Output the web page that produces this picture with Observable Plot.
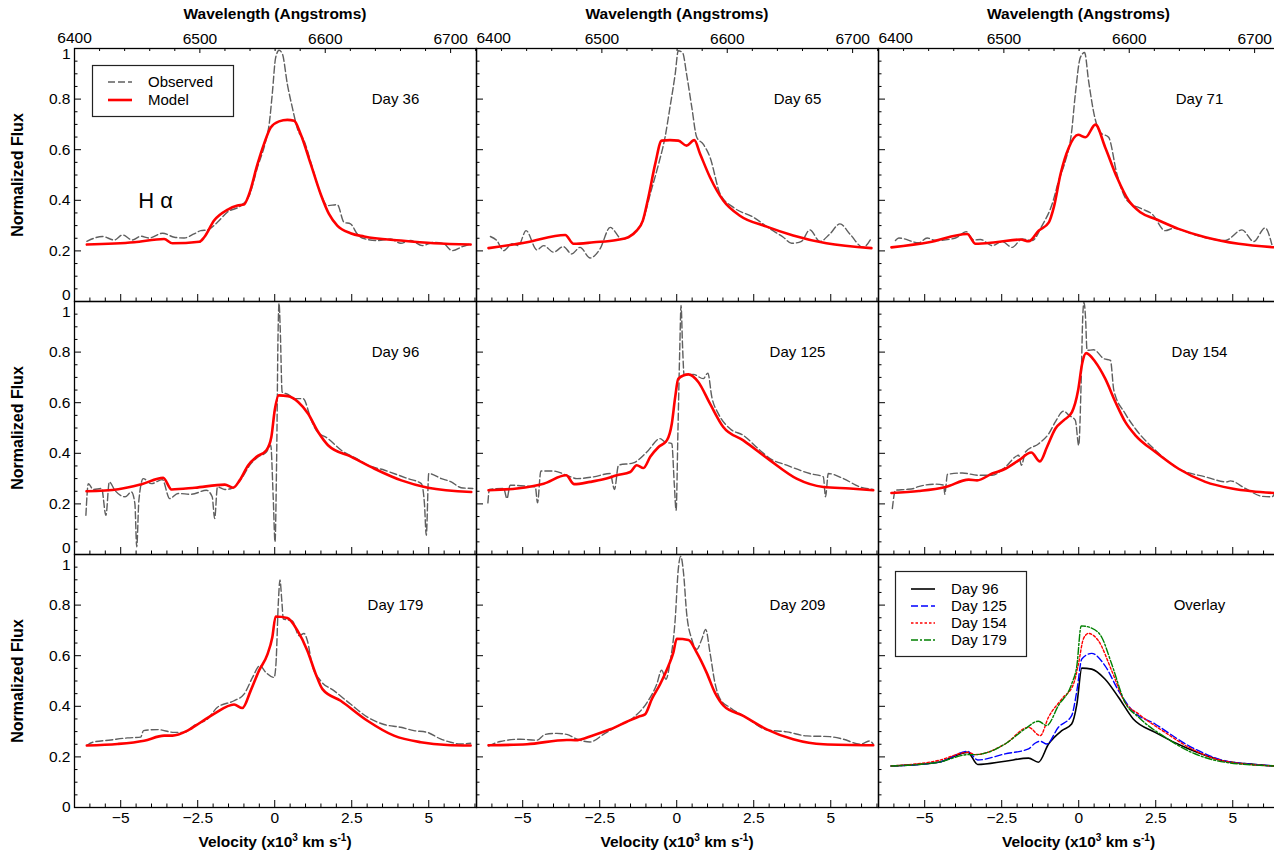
<!DOCTYPE html>
<html><head><meta charset="utf-8">
<script src="https://cdn.jsdelivr.net/npm/d3@7"></script>
<script src="https://cdn.jsdelivr.net/npm/@observablehq/plot@0.6"></script>
<style>
body{margin:0;background:#fff;}
#chart{position:relative;width:1274px;height:857px;overflow:hidden;background:#fff;font-family:"Liberation Sans",Arial,Helvetica,sans-serif;color:#000;}
.ttl{position:absolute;font-weight:bold;font-size:15.5px;white-space:nowrap;transform:translate(-50%,-50%);}
.ttl sup{font-size:10px;vertical-align:6px;line-height:0;}
.rot{font-size:16px;transform:translate(-50%,-50%) rotate(-90deg);}
.leg{position:absolute;overflow:visible;}
</style></head>
<body><div id="chart"></div>
<script>
// ---------------- data (velocity x10^3 km/s, normalized flux) ----------------
const obs36 = [[-6.10,0.238],[-5.59,0.257],[-5.21,0.243],[-4.94,0.263],[-4.62,0.243],[-4.35,0.258],[-4.08,0.251],[-3.64,0.270],[-3.26,0.254],[-2.94,0.251],[-2.62,0.267],[-2.40,0.280],[-2.18,0.283],[-1.86,0.313],[-1.54,0.353],[-1.10,0.379],[-0.83,0.418],[-0.56,0.530],[-0.29,0.636],[-0.18,0.701],[-0.08,0.820],[0.03,0.964],[0.14,0.993],[0.25,0.978],[0.41,0.859],[0.57,0.767],[0.74,0.682],[0.95,0.636],[1.22,0.530],[1.49,0.425],[1.71,0.379],[2.03,0.383],[2.25,0.313],[2.46,0.307],[2.68,0.267],[2.84,0.251],[3.33,0.241],[3.76,0.247],[4.09,0.230],[4.41,0.241],[4.79,0.221],[5.17,0.234],[5.49,0.228],[5.76,0.201],[6.09,0.217],[6.36,0.228]];
const mod36 = [[-6.10,0.225],[-4.56,0.234],[-3.59,0.247],[-3.32,0.230],[-2.45,0.236],[-2.29,0.254],[-1.97,0.320],[-1.54,0.362],[-1.21,0.379],[-1.00,0.383],[-0.83,0.425],[-0.56,0.543],[-0.35,0.622],[-0.13,0.688],[0.14,0.712],[0.41,0.718],[0.63,0.714],[0.84,0.662],[1.17,0.543],[1.49,0.425],[1.76,0.346],[2.03,0.300],[2.46,0.270],[2.90,0.257],[4.09,0.241],[5.17,0.230],[6.36,0.225]];

const obs65 = [[-6.05,0.257],[-5.84,0.241],[-5.62,0.201],[-5.35,0.228],[-5.14,0.221],[-4.89,0.280],[-4.54,0.204],[-4.32,0.221],[-4.00,0.195],[-3.68,0.217],[-3.41,0.188],[-3.14,0.214],[-2.81,0.172],[-2.49,0.208],[-2.16,0.293],[-1.78,0.247],[-1.41,0.270],[-1.08,0.326],[-0.86,0.425],[-0.59,0.543],[-0.38,0.649],[-0.22,0.767],[-0.05,0.899],[0.05,0.991],[0.19,0.984],[0.32,0.899],[0.49,0.767],[0.65,0.649],[0.86,0.622],[1.08,0.570],[1.41,0.425],[1.84,0.372],[2.49,0.333],[3.03,0.287],[3.46,0.254],[3.73,0.230],[4.05,0.238],[4.32,0.283],[4.65,0.237],[4.97,0.267],[5.30,0.307],[5.62,0.267],[6.05,0.214],[6.32,0.251]];
const mod65 = [[-6.11,0.211],[-4.86,0.234],[-3.62,0.263],[-3.35,0.228],[-2.70,0.234],[-1.95,0.243],[-1.57,0.254],[-1.30,0.280],[-1.10,0.320],[-0.92,0.412],[-0.70,0.543],[-0.49,0.636],[-0.22,0.638],[0.05,0.636],[0.32,0.616],[0.57,0.638],[0.76,0.583],[1.08,0.491],[1.51,0.399],[2.05,0.339],[2.92,0.296],[3.78,0.261],[4.86,0.230],[6.32,0.211]];

const obs71 = [[-5.95,0.241],[-5.84,0.251],[-5.19,0.232],[-4.92,0.251],[-4.65,0.241],[-4.00,0.251],[-3.65,0.276],[-3.41,0.243],[-3.19,0.245],[-2.81,0.221],[-2.49,0.237],[-2.16,0.214],[-1.84,0.247],[-1.51,0.241],[-1.19,0.300],[-0.86,0.386],[-0.65,0.478],[-0.43,0.557],[-0.24,0.662],[-0.11,0.820],[0.05,0.964],[0.19,0.984],[0.32,0.872],[0.52,0.728],[0.70,0.668],[0.97,0.649],[1.24,0.504],[1.57,0.399],[2.05,0.366],[2.38,0.346],[2.81,0.280],[3.08,0.289],[3.78,0.263],[4.32,0.247],[4.76,0.241],[5.30,0.283],[5.68,0.237],[6.05,0.291],[6.27,0.225]];
const mod71 = [[-6.08,0.214],[-4.86,0.234],[-3.62,0.267],[-3.35,0.228],[-2.70,0.234],[-1.89,0.245],[-1.62,0.238],[-1.30,0.280],[-0.97,0.313],[-0.81,0.372],[-0.59,0.504],[-0.32,0.609],[-0.02,0.659],[0.22,0.649],[0.54,0.699],[0.86,0.609],[1.24,0.491],[1.62,0.399],[2.00,0.353],[2.49,0.326],[3.24,0.287],[4.11,0.254],[5.19,0.228],[6.38,0.214]];

const obs96 = [[-6.13,0.155],[-6.05,0.280],[-5.89,0.257],[-5.62,0.261],[-5.48,0.155],[-5.37,0.287],[-5.19,0.254],[-4.86,0.228],[-4.65,0.247],[-4.54,0.201],[-4.48,0.030],[-4.41,0.214],[-4.27,0.300],[-4.00,0.280],[-3.65,0.296],[-3.41,0.221],[-3.14,0.241],[-2.70,0.238],[-2.22,0.254],[-2.03,0.228],[-1.95,0.142],[-1.86,0.267],[-1.62,0.257],[-1.41,0.261],[-1.08,0.300],[-0.81,0.353],[-0.54,0.386],[-0.27,0.405],[-0.13,0.432],[-0.05,0.228],[0.01,0.050],[0.06,0.359],[0.11,0.886],[0.14,0.993],[0.18,0.886],[0.24,0.642],[0.43,0.633],[0.65,0.616],[0.92,0.616],[1.19,0.530],[1.35,0.491],[1.73,0.458],[2.16,0.412],[2.76,0.372],[2.92,0.359],[3.57,0.333],[4.32,0.300],[4.76,0.280],[4.86,0.201],[4.92,0.076],[5.00,0.320],[5.41,0.300],[5.73,0.287],[6.05,0.264],[6.43,0.261]];
const mod96 = [[-6.11,0.250],[-5.08,0.258],[-4.32,0.278],[-3.62,0.303],[-3.35,0.257],[-2.59,0.264],[-1.62,0.276],[-1.35,0.264],[-1.14,0.293],[-0.86,0.353],[-0.59,0.386],[-0.27,0.412],[-0.11,0.464],[0.00,0.570],[0.13,0.629],[0.43,0.626],[0.76,0.603],[1.08,0.557],[1.41,0.484],[1.73,0.432],[2.49,0.386],[3.24,0.339],[4.11,0.293],[4.97,0.264],[6.38,0.247]];

const obs125 = [[-6.13,0.204],[-6.08,0.257],[-5.62,0.261],[-5.51,0.221],[-5.41,0.274],[-4.86,0.270],[-4.59,0.267],[-4.52,0.204],[-4.41,0.330],[-4.00,0.330],[-3.57,0.313],[-3.24,0.300],[-2.70,0.307],[-2.16,0.320],[-2.02,0.257],[-1.89,0.353],[-1.41,0.362],[-0.97,0.405],[-0.54,0.458],[-0.38,0.445],[-0.16,0.438],[-0.08,0.280],[-0.02,0.175],[0.04,0.491],[0.10,0.820],[0.14,0.984],[0.19,0.820],[0.24,0.708],[0.54,0.712],[0.86,0.695],[1.01,0.717],[1.14,0.622],[1.35,0.557],[1.73,0.497],[2.16,0.471],[2.70,0.412],[3.03,0.379],[3.57,0.353],[4.32,0.320],[4.76,0.307],[4.83,0.228],[4.92,0.320],[5.41,0.300],[5.95,0.267],[6.38,0.257]];
const mod125 = [[-6.11,0.254],[-5.19,0.261],[-4.32,0.280],[-3.59,0.313],[-3.33,0.278],[-2.81,0.287],[-2.38,0.297],[-1.95,0.313],[-1.51,0.326],[-1.30,0.353],[-1.08,0.342],[-0.86,0.386],[-0.59,0.425],[-0.32,0.451],[-0.16,0.517],[-0.05,0.622],[0.05,0.695],[0.38,0.712],[0.70,0.682],[1.08,0.596],[1.51,0.504],[2.16,0.451],[3.03,0.372],[3.89,0.300],[4.76,0.267],[5.62,0.261],[6.38,0.254]];

const obs154 = [[-6.05,0.182],[-5.95,0.254],[-5.62,0.257],[-5.35,0.261],[-5.24,0.267],[-4.65,0.278],[-4.38,0.274],[-4.35,0.238],[-4.26,0.317],[-3.78,0.322],[-3.24,0.313],[-2.81,0.313],[-2.38,0.346],[-1.95,0.392],[-1.86,0.353],[-1.73,0.405],[-1.30,0.438],[-0.97,0.478],[-0.76,0.524],[-0.49,0.567],[-0.32,0.550],[-0.11,0.530],[0.00,0.432],[0.08,0.688],[0.13,0.938],[0.17,0.997],[0.22,0.938],[0.27,0.807],[0.49,0.809],[0.81,0.774],[1.03,0.767],[1.14,0.649],[1.51,0.557],[1.84,0.497],[2.49,0.412],[3.24,0.339],[4.11,0.307],[4.81,0.287],[4.92,0.291],[5.41,0.261],[5.95,0.230],[6.27,0.228],[6.38,0.247]];
const mod154 = [[-6.08,0.243],[-5.19,0.251],[-4.32,0.267],[-3.57,0.296],[-3.30,0.293],[-2.81,0.320],[-2.38,0.339],[-1.95,0.372],[-1.54,0.403],[-1.26,0.368],[-1.03,0.425],[-0.76,0.497],[-0.49,0.530],[-0.22,0.563],[-0.02,0.649],[0.11,0.754],[0.24,0.796],[0.54,0.761],[0.86,0.695],[1.19,0.603],[1.51,0.524],[1.84,0.471],[2.49,0.405],[3.24,0.339],[4.11,0.287],[4.97,0.261],[5.62,0.250],[6.38,0.243]];

const obs179 = [[-6.10,0.245],[-5.91,0.258],[-5.32,0.267],[-4.78,0.275],[-4.35,0.278],[-4.26,0.304],[-3.81,0.308],[-3.26,0.297],[-2.94,0.297],[-2.62,0.324],[-2.18,0.350],[-1.86,0.396],[-1.32,0.422],[-0.99,0.449],[-0.72,0.514],[-0.48,0.561],[-0.29,0.534],[-0.02,0.514],[0.04,0.567],[0.12,0.817],[0.17,0.899],[0.23,0.817],[0.28,0.745],[0.57,0.738],[0.79,0.679],[0.95,0.688],[1.06,0.659],[1.22,0.561],[1.49,0.501],[1.92,0.462],[2.46,0.409],[3.01,0.357],[3.55,0.328],[4.09,0.317],[4.52,0.304],[4.95,0.297],[5.38,0.271],[5.71,0.258],[6.03,0.251],[6.36,0.254]];
const mod179 = [[-6.10,0.245],[-5.10,0.251],[-4.24,0.264],[-3.59,0.284],[-3.32,0.284],[-2.83,0.304],[-2.40,0.337],[-1.97,0.370],[-1.32,0.407],[-1.05,0.393],[-0.78,0.462],[-0.51,0.541],[-0.24,0.604],[-0.08,0.672],[0.03,0.755],[0.41,0.749],[0.74,0.699],[1.06,0.620],[1.33,0.528],[1.55,0.468],[2.14,0.422],[3.01,0.343],[3.87,0.284],[4.74,0.258],[5.60,0.247],[6.36,0.245]];

const obs209 = [[-6.11,0.243],[-5.73,0.261],[-5.08,0.270],[-4.54,0.266],[-4.27,0.289],[-3.89,0.293],[-3.57,0.289],[-3.24,0.270],[-2.81,0.259],[-2.38,0.289],[-1.95,0.320],[-1.41,0.355],[-0.97,0.414],[-0.65,0.487],[-0.49,0.543],[-0.35,0.507],[-0.22,0.572],[-0.05,0.743],[0.05,0.941],[0.13,0.993],[0.22,0.928],[0.32,0.770],[0.49,0.664],[0.65,0.625],[0.81,0.664],[0.94,0.704],[1.08,0.612],[1.24,0.493],[1.41,0.428],[1.73,0.395],[2.27,0.355],[2.92,0.307],[3.57,0.299],[4.22,0.283],[4.97,0.280],[5.41,0.270],[5.95,0.250],[6.27,0.263],[6.38,0.250]];
const mod209 = [[-6.11,0.246],[-4.86,0.250],[-3.57,0.267],[-3.30,0.266],[-2.70,0.286],[-2.16,0.309],[-1.62,0.339],[-1.24,0.359],[-1.03,0.368],[-0.81,0.428],[-0.54,0.487],[-0.27,0.559],[-0.11,0.612],[0.00,0.667],[0.38,0.662],[0.65,0.612],[0.97,0.533],[1.24,0.454],[1.51,0.404],[2.16,0.362],[2.92,0.309],[3.78,0.270],[4.76,0.250],[6.38,0.246]];

// overlay of models
const ovl96 = [[-6.09,0.164],[-4.55,0.179],[-3.60,0.218],[-3.28,0.170],[-2.39,0.183],[-1.63,0.195],[-1.31,0.179],[-0.98,0.251],[-0.55,0.304],[-0.23,0.330],[-0.06,0.409],[0.10,0.551],[0.42,0.547],[0.85,0.508],[1.29,0.436],[1.77,0.350],[2.48,0.297],[3.56,0.232],[4.64,0.186],[5.72,0.170],[6.39,0.164]];
const ovl125 = [[-6.09,0.164],[-4.55,0.179],[-3.60,0.222],[-3.28,0.188],[-2.39,0.212],[-1.63,0.232],[-1.42,0.254],[-1.25,0.262],[-1.04,0.251],[-0.66,0.317],[-0.23,0.363],[-0.06,0.462],[0.10,0.587],[0.42,0.609],[0.85,0.561],[1.29,0.462],[1.72,0.386],[2.48,0.330],[3.56,0.245],[4.64,0.188],[5.72,0.170],[6.39,0.164]];
const ovl154 = [[-6.09,0.164],[-4.55,0.186],[-3.60,0.218],[-3.36,0.209],[-2.39,0.251],[-1.63,0.317],[-1.25,0.284],[-0.98,0.357],[-0.55,0.429],[-0.17,0.488],[-0.01,0.567],[0.15,0.666],[0.31,0.688],[0.64,0.659],[1.07,0.541],[1.50,0.416],[1.94,0.370],[2.80,0.297],[3.66,0.232],[4.75,0.183],[6.39,0.164]];
const ovl179 = [[-6.09,0.164],[-4.55,0.179],[-3.58,0.209],[-3.36,0.209],[-2.39,0.251],[-1.74,0.311],[-1.31,0.341],[-1.04,0.324],[-0.66,0.403],[-0.23,0.488],[-0.06,0.561],[0.08,0.718],[0.42,0.709],[0.75,0.672],[1.07,0.567],[1.50,0.416],[1.94,0.357],[2.80,0.278],[3.66,0.218],[4.75,0.179],[6.39,0.164]];

// labels and ticks
const dayLabels = [["Day 36","Day 65","Day 71"],["Day 96","Day 125","Day 154"],["Day 179","Day 209","Overlay"]];
const xTickValues = [-5, -2.5, 0, 2.5, 5];
const yTickValues = [0, 0.2, 0.4, 0.6, 0.8, 1];
const lambdaTicks = [6400, 6500, 6600, 6700];
const overlayNames = ["Day 96", "Day 125", "Day 154", "Day 179"];

// ---------------- layout ----------------
const W = 402, H = 253;
const colLeft = [74, 476, 877.5];
const rowTop = [48, 301, 554];
const vDomain = [-6.5, 6.55];
const lamToV = l => -6.5 + (l - 6400) * 0.0407; // top wavelength axis position
const fmtX = v => (v < 0 ? "\u2212" : "") + Math.abs(v);
const fmtY = v => String(v);
const xMinor = d3.range(-6.5, 6.51, 0.5).filter(v => !xTickValues.includes(v));
const yMinor = d3.range(1, 20).map(i => i * 0.05).filter(v => Math.abs(v * 5 - Math.round(v * 5)) > 1e-6);
const lamMinor = d3.range(6420, 6721, 20).filter(l => l % 100 !== 0);

const FONT = '"Liberation Sans", Arial, Helvetica, sans-serif';
const TICKFS = 15.5;
const obsStyle = {stroke: "#5f5f5f", strokeWidth: 1.4, strokeDasharray: "7,3", curve: "monotone-x"};
const modStyle = {stroke: "#ff0000", strokeWidth: 2.6, curve: "monotone-x"};
const ovlStyles = [
  {stroke: "#000000", strokeWidth: 1.6},
  {stroke: "#0000ff", strokeWidth: 1.4, strokeDasharray: "7,3"},
  {stroke: "#ff0000", strokeWidth: 1.4, strokeDasharray: "2.5,2"},
  {stroke: "#008000", strokeWidth: 1.4, strokeDasharray: "7,2,2,2"}
];

const chart = document.getElementById("chart");

function panel(row, col, curves) {
  const marks = [
    Plot.tickX(xMinor, {x: d => d, insetTop: H - 3.5, stroke: "black"}),
    Plot.tickX(xTickValues, {x: d => d, insetTop: H - 7, stroke: "black"}),
    Plot.tickY(yMinor, {y: d => d, insetRight: W - 3.5, stroke: "black"}),
    Plot.tickY(yTickValues, {y: d => d, insetRight: W - 7, stroke: "black"})
  ];
  if (row === 0) {
    marks.push(Plot.tickX(lamMinor.map(lamToV), {x: d => d, insetBottom: H - 3, stroke: "black"}));
    marks.push(Plot.tickX(lambdaTicks.map(lamToV), {x: d => d, insetBottom: H - 5, stroke: "black"}));
    const first = lambdaTicks.slice(0, 1), rest = lambdaTicks.slice(1);
    marks.push(Plot.text(first, {x: d => lamToV(d), text: d => String(d), frameAnchor: "top", dy: -10, lineAnchor: "middle", textAnchor: col === 0 ? "middle" : "start", fontSize: TICKFS}));
    marks.push(Plot.text(rest, {x: d => lamToV(d), text: d => String(d), frameAnchor: "top", dy: -9, lineAnchor: "middle", textAnchor: "middle", fontSize: TICKFS}));
  }
  if (row === 2) {
    marks.push(Plot.text(xTickValues, {x: d => d, text: fmtX, frameAnchor: "bottom", dy: 11, lineAnchor: "middle", fontSize: TICKFS}));
  }
  if (col === 0) {
    const mid = yTickValues.filter(v => v > 0 && v < 1);
    marks.push(Plot.text(mid, {y: d => d, text: fmtY, frameAnchor: "left", dx: -4, lineAnchor: "middle", textAnchor: "end", fontSize: TICKFS}));
    marks.push(Plot.text([0], {y: d => d, text: fmtY, frameAnchor: "left", dx: -4, dy: row < 2 ? -6 : 0, lineAnchor: "middle", textAnchor: "end", fontSize: TICKFS}));
    marks.push(Plot.text([1], {y: d => d, text: fmtY, frameAnchor: "left", dx: -4, dy: row > 0 ? 11 : 6, lineAnchor: "middle", textAnchor: "end", fontSize: TICKFS}));
  }
  for (const c of curves) marks.push(Plot.line(c.data, {x: d => d[0], y: d => d[1], ...c.style}));
  marks.push(Plot.text([dayLabels[row][col]], {text: d => d, frameAnchor: "top-left", dx: 321, dy: 51, lineAnchor: "middle", textAnchor: "middle", fontSize: 15}));
  if (row === 0 && col === 0) {
    marks.push(Plot.text(["H \u03b1"], {text: d => d, frameAnchor: "top-left", dx: 81, dy: 152, lineAnchor: "middle", textAnchor: "middle", fontSize: 22}));
  }
  marks.push(Plot.frame({stroke: "black", strokeWidth: 1.3}));
  const svg = Plot.plot({
    width: W, height: H, margin: 0,
    x: {domain: vDomain, axis: null},
    y: {domain: [0, 1], axis: null},
    style: {background: "transparent", overflow: "visible", fontFamily: FONT, color: "black"},
    marks
  });
  svg.style.position = "absolute";
  svg.style.left = colLeft[col] + "px";
  svg.style.top = rowTop[row] + "px";
  svg.style.maxWidth = "none";
  chart.appendChild(svg);
}

const obsModel = (o, m) => [{data: o, style: obsStyle}, {data: m, style: modStyle}];
panel(0, 0, obsModel(obs36, mod36));
panel(0, 1, obsModel(obs65, mod65));
panel(0, 2, obsModel(obs71, mod71));
panel(1, 0, obsModel(obs96, mod96));
panel(1, 1, obsModel(obs125, mod125));
panel(1, 2, obsModel(obs154, mod154));
panel(2, 0, obsModel(obs179, mod179));
panel(2, 1, obsModel(obs209, mod209));
panel(2, 2, [ovl96, ovl125, ovl154, ovl179].map((d, i) => ({data: d, style: {...ovlStyles[i], curve: "monotone-x"}})));

// ---------------- titles ----------------
function addDiv(html, cls, x, y) {
  const d = document.createElement("div");
  d.className = cls; d.innerHTML = html;
  d.style.left = x + "px"; d.style.top = y + "px";
  chart.appendChild(d);
}
for (let c = 0; c < 3; c++) {
  addDiv("Wavelength (Angstroms)", "ttl", colLeft[c] + 201, 14);
  addDiv("Velocity (x10<sup>3</sup> km s<sup>-1</sup>)", "ttl", colLeft[c] + 201, 842);
}
for (let r = 0; r < 3; r++) addDiv("Normalized Flux", "ttl rot", 18, rowTop[r] + H / 2);

// ---------------- legends ----------------
const NS = "http://www.w3.org/2000/svg";
function legend(x, y, w, h, entries, rowY0, rowStep) {
  const s = document.createElementNS(NS, "svg");
  s.setAttribute("width", w); s.setAttribute("height", h);
  s.setAttribute("class", "leg");
  s.style.left = x + "px"; s.style.top = y + "px";
  const r = document.createElementNS(NS, "rect");
  r.setAttribute("x", 0.5); r.setAttribute("y", 0.5); r.setAttribute("width", w - 1); r.setAttribute("height", h - 1);
  r.setAttribute("fill", "white"); r.setAttribute("stroke", "#222"); r.setAttribute("stroke-width", 1.2);
  s.appendChild(r);
  entries.forEach((e, i) => {
    const yy = rowY0 + i * rowStep;
    const l = document.createElementNS(NS, "line");
    l.setAttribute("x1", 16); l.setAttribute("x2", 40); l.setAttribute("y1", yy); l.setAttribute("y2", yy);
    l.setAttribute("stroke", e.style.stroke); l.setAttribute("stroke-width", e.style.strokeWidth);
    if (e.style.strokeDasharray) l.setAttribute("stroke-dasharray", e.style.strokeDasharray);
    s.appendChild(l);
    const t = document.createElementNS(NS, "text");
    t.setAttribute("x", 56); t.setAttribute("y", yy); t.setAttribute("dy", "0.35em");
    t.setAttribute("font-size", 15); t.setAttribute("font-family", FONT);
    t.textContent = e.name;
    s.appendChild(t);
  });
  chart.appendChild(s);
}
legend(92, 65, 142, 52, [{name: "Observed", style: obsStyle}, {name: "Model", style: modStyle}], 17, 18);
legend(895, 571, 132, 86, overlayNames.map((n, i) => ({name: n, style: ovlStyles[i]})), 18, 17);
</script></body></html>
